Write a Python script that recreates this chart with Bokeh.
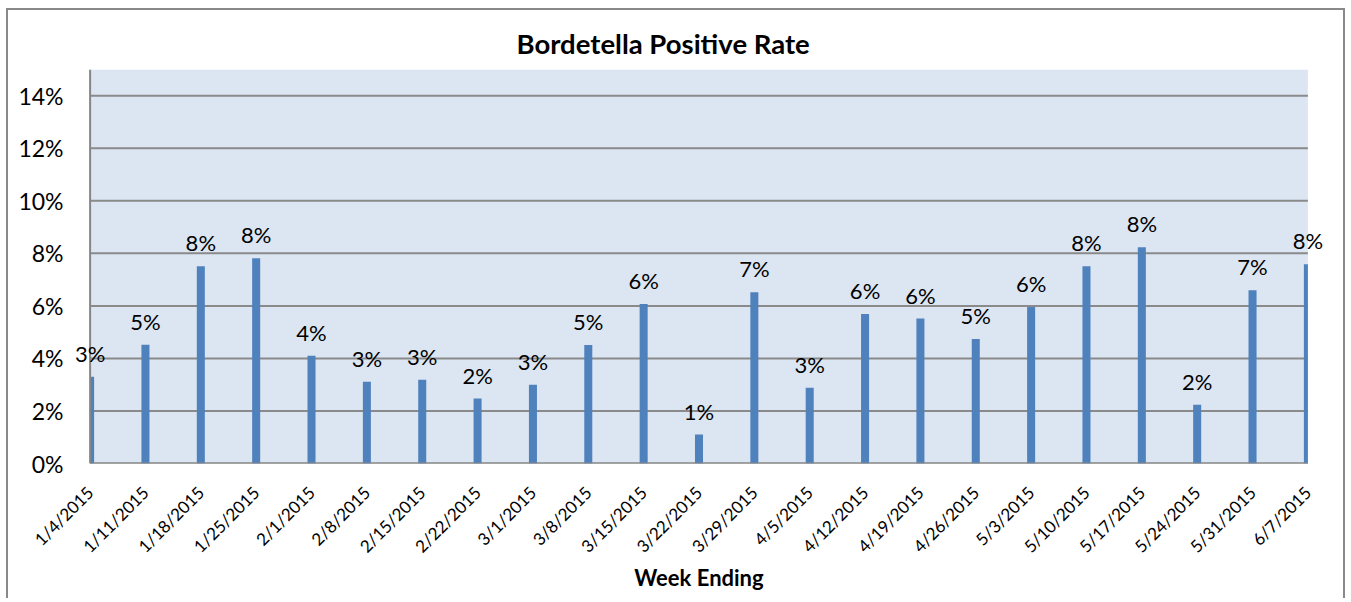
import math
from bokeh.plotting import figure
from bokeh.models import ColumnDataSource, Range1d, FixedTicker, Label, NumeralTickFormatter
from bokeh.embed import file_html
from bokeh.resources import INLINE

weeks = ["1/4/2015", "1/11/2015", "1/18/2015", "1/25/2015", "2/1/2015", "2/8/2015",
         "2/15/2015", "2/22/2015", "3/1/2015", "3/8/2015", "3/15/2015", "3/22/2015",
         "3/29/2015", "4/5/2015", "4/12/2015", "4/19/2015", "4/26/2015", "5/3/2015",
         "5/10/2015", "5/17/2015", "5/24/2015", "5/31/2015", "6/7/2015"]
rates = [0.0330, 0.0452, 0.0751, 0.0781, 0.0410, 0.0311, 0.0319, 0.0247, 0.0300,
         0.0451, 0.0607, 0.0110, 0.0652, 0.0288, 0.0569, 0.0552, 0.0474, 0.0596,
         0.0751, 0.0823, 0.0224, 0.0660, 0.0759]
y_ticks = [0.0, 0.02, 0.04, 0.06, 0.08, 0.10, 0.12, 0.14]
y_max = 0.15

FONT = "Lato"
GRID = "#8A8A8A"
AXIS = "#868686"
xs = list(range(len(weeks)))
x_lo, x_hi = xs[0], xs[-1]
labels = ["{:.0f}%".format(r * 100) for r in rates]
half = 0.0725
src = ColumnDataSource(dict(
    left=[max(x - half, x_lo) for x in xs],
    right=[min(x + half, x_hi) for x in xs],
    top=rates))

pad = 0.3
p = figure(width=1339, height=590, output_backend="svg", toolbar_location=None,
           x_range=Range1d(x_lo - pad, x_hi + pad), y_range=Range1d(0, y_max),
           min_border_left=65, min_border_right=23, min_border_top=59, min_border_bottom=137)
p.styles = {"margin-left": "6px", "margin-top": "8px",
            "border-left": "2px solid #898989", "border-top": "2px solid #898989",
            "border-right": "2px solid #898989"}

p.background_fill_color = "white"
p.border_fill_color = "white"
p.outline_line_color = None

# plot area background
p.quad(left=[x_lo], right=[x_hi], bottom=[0], top=[y_max], fill_color="#DCE6F2", line_color=None)
# horizontal gridlines
p.segment(x0=[x_lo] * len(y_ticks), x1=[x_hi] * len(y_ticks), y0=y_ticks, y1=y_ticks,
          line_color=GRID, line_width=2)
# bars
p.quad(left="left", right="right", bottom=0, top="top", source=src,
       fill_color="#4F81BD", line_color=None)
# axis lines
p.segment(x0=[x_lo, x_lo], x1=[x_hi, x_lo], y0=[0, 0], y1=[0, y_max],
          line_color=AXIS, line_width=2)

for xv, yv, t in zip(xs, rates, labels):
    p.add_layout(Label(x=xv, y=yv, text=t, y_offset=10, text_align="center",
                       text_baseline="bottom", text_font=FONT, text_font_size="22px",
                       text_color="black"))

p.title.text = "Bordetella Positive Rate"
p.title.align = "left"
p.title.text_font = FONT
p.title.text_font_size = "27.5px"
p.title.text_font_style = "bold"
p.title.text_color = "black"
p.title.offset = 443
p.title.standoff = 20

p.xaxis.ticker = FixedTicker(ticks=xs)
p.xaxis.major_label_overrides = {i: w for i, w in enumerate(weeks)}
p.xaxis.major_label_orientation = math.pi / 4
p.xaxis.major_label_text_font = FONT
p.xaxis.major_label_text_font_size = "17px"
p.xaxis.major_label_standoff = 20
p.xaxis.axis_label = "Week Ending"
p.xaxis.axis_label_text_font = FONT
p.xaxis.axis_label_text_font_size = "22px"
p.xaxis.axis_label_text_font_style = "bold"
p.xaxis.axis_label_text_color = "black"
p.xaxis.axis_label_standoff = -3

p.yaxis.ticker = FixedTicker(ticks=y_ticks)
p.yaxis.formatter = NumeralTickFormatter(format="0%")
p.yaxis.major_label_text_font = FONT
p.yaxis.major_label_text_font_size = "23px"
p.yaxis.major_label_standoff = 4

for ax in (p.xaxis, p.yaxis):
    ax.axis_line_color = None
    ax.major_tick_line_color = None
    ax.minor_tick_line_color = None
    ax.major_label_text_color = "black"

p.xgrid.grid_line_color = None
p.ygrid.grid_line_color = None

open("out.html", "w").write(file_html(p, INLINE))
